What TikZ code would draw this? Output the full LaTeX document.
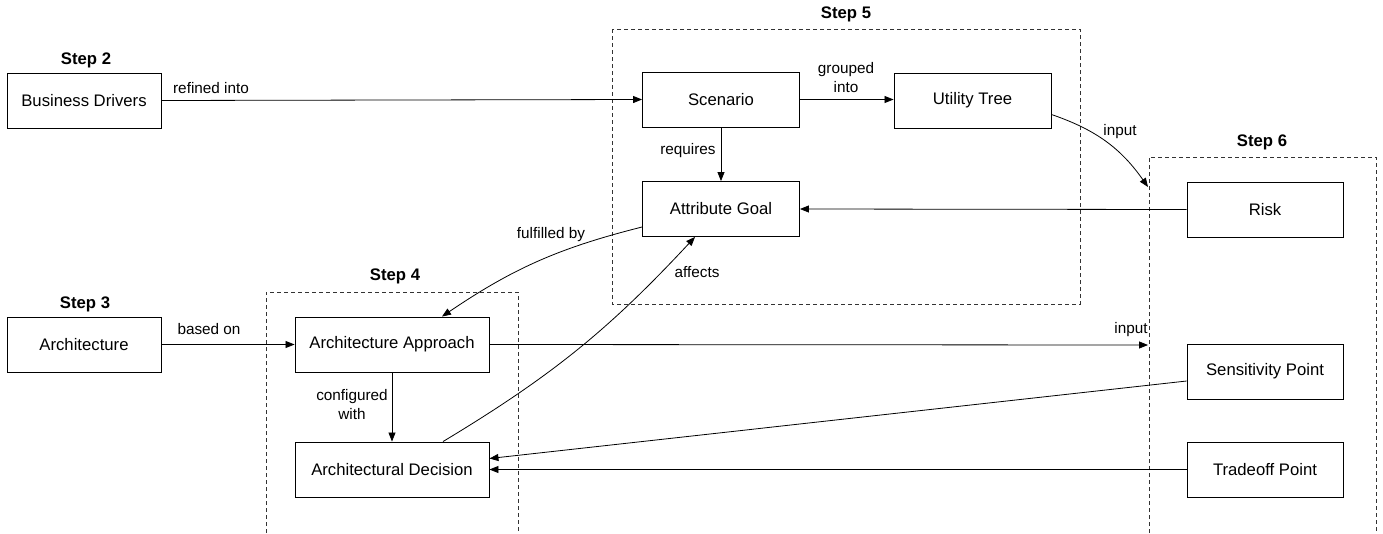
\documentclass[tikz,border=0pt]{standalone}
\usepackage{fontspec}
\setmainfont{Liberation Sans}
\usetikzlibrary{arrows.meta}
\begin{document}
\begin{tikzpicture}[x=1pt,y=-1pt,
  box/.style={draw, line width=0.9pt, minimum width=157pt, minimum height=55pt, inner sep=0pt, font=\fontsize{16.7}{20}\selectfont},
  wbox/.style={box, minimum width=194pt},
  grp/.style={draw, dash pattern=on 4pt off 3pt, line width=0.8pt, black!80},
  steplbl/.style={font=\fontsize{16.7}{20}\selectfont\bfseries},
  elbl/.style={font=\fontsize{15.3}{18.5}\selectfont, align=center, inner sep=0pt},
  conn/.style={-{Triangle[length=9pt,width=7pt]}, line width=0.8pt},
]
\useasboundingbox (0,0) rectangle (1383,533);

% groups
\draw[grp] (612,29) rectangle (1080,304);
\draw[grp] (1149,533) -- (1149,157) -- (1376,157) -- (1376,533);
\draw[grp] (266,533) -- (266,292) -- (518,292) -- (518,533);

% step labels
\node[steplbl] (s2) at (86,60) {Step 2};
\node[steplbl] (s3) at (85,304) {Step 3};
\node[steplbl] (s4) at (395,276) {Step 4};
\node[steplbl] (s5) at (846,14) {Step 5};
\node[steplbl] (s6) at (1262,142) {Step 6};

% nodes
\node[box, minimum width=154pt] (bd) at (84,100.5) {Business Drivers};
\node[box, minimum width=154pt] (arch) at (84,344.5) {Architecture};
\node[box] (scen) at (721,99.5) {Scenario};
\node[box] (ut) at (972.5,100.5) {Utility Tree};
\node[box] (ag) at (721,209) {Attribute Goal};
\node[box, minimum width=156pt] (risk) at (1265,209.5) {Risk};
\node[box, minimum width=156pt] (sp) at (1265,371.5) {Sensitivity Point};
\node[box, minimum width=156pt] (tp) at (1265,469.5) {Tradeoff Point};
\node[wbox] (aa) at (392,344.5) {Architecture Approach};
\node[wbox] (ad) at (392,469.5) {Architectural Decision};

\coordinate (in1) at (1148,187);
\coordinate (in2) at (1148,345);

% connectors
\draw[conn] (bd.east) -- (scen.west);
\draw[conn] (scen.east) -- (scen.east -| ut.west);
\draw[conn] (scen.south) -- (ag.north);
\draw[conn] ([yshift=-14pt]ut.east) to[bend left=18] (in1);
\draw[conn] (risk.west) -- (ag.east);
\draw[conn] ([yshift=-18pt]ag.west) to[bend right=10] ([xshift=50pt]aa.north);
\draw[conn] ([xshift=51pt]ad.north) to[bend right=8] ([xshift=-26pt]ag.south);
\draw[conn] (arch.east) -- (aa.west);
\draw[conn] (aa.east) -- (in2);
\draw[conn] (aa.south) -- (ad.north);
\draw[conn] ([yshift=-9.5pt]sp.west) -- ([yshift=11pt]ad.east);
\draw[conn] (tp.west) -- (ad.east);

% edge labels
\node[elbl] (l1) at (211,88) {refined into};
\node[elbl] (l2) at (846,77.5) {grouped\\into};
\node[elbl] (l3) at (688,151) {requires};
\node[elbl] (l4) at (1120,132) {input};
\node[elbl] (l5) at (551,235) {fulfilled by};
\node[elbl] (l6) at (697,272) {affects};
\node[elbl] (l7) at (209,329) {based on};
\node[elbl] (l8) at (352,404.5) {configured\\with};
\node[elbl] (l9) at (1131,330) {input};
\end{tikzpicture}
\end{document}
